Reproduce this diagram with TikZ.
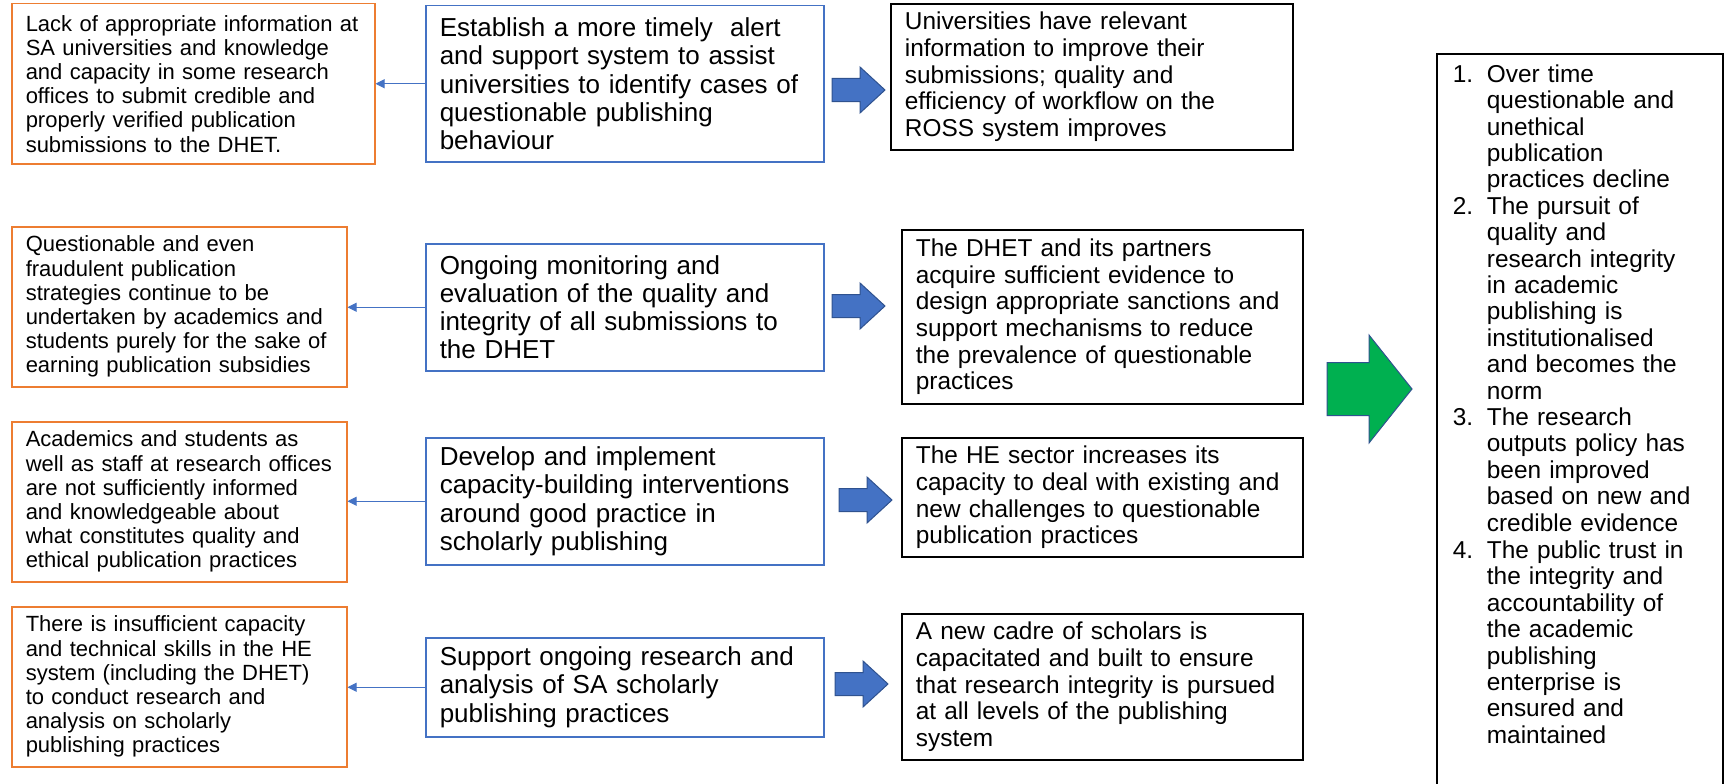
\documentclass[tikz,border=0pt]{standalone}
\usepackage{fontspec}
\setmainfont{Liberation Sans}
\usetikzlibrary{arrows.meta,calc}

\definecolor{causeorange}{HTML}{ED7D31}
\definecolor{actblue}{HTML}{4472C4}
\definecolor{arrowedge}{HTML}{2F528F}
\definecolor{goalgreen}{HTML}{00B050}

\newcommand{\outitem}[2]{\makebox[34pt][l]{\strut#1}\parbox[t]{220pt}{\raggedright\strut#2\strut}}

\tikzset{
	bigarrow/.pic={\draw[pic actions] (0,-11.5) -- (28,-11.5) -- (28,-23) -- (53,0) -- (28,23) -- (28,11.5) -- (0,11.5) -- cycle;},
	goalarrow/.pic={\draw[pic actions] (0,-26.5) -- (42,-26.5) -- (42,-54) -- (85,0) -- (42,54) -- (42,26.5) -- (0,26.5) -- cycle;},
}

\begin{document}
\begin{tikzpicture}[x=1pt,y=-1pt,
	cause/.style={draw=causeorange,line width=1.5pt,anchor=north west,inner xsep=14pt,inner ysep=0pt,align=left,minimum height=160,font=\fontsize{22}{24.2}\selectfont},
	action/.style={draw=actblue,line width=1.5pt,anchor=north west,inner xsep=14pt,inner ysep=0pt,align=left,text width=370,font=\fontsize{26}{28.3}\selectfont},
	result/.style={draw=black,line width=1.8pt,anchor=north west,inner xsep=14pt,inner ysep=0pt,align=left,font=\fontsize{24.4}{26.7}\selectfont},
	outcome/.style={draw=black,line width=1.8pt,anchor=north west,inner xsep=16pt,inner ysep=10pt,align=left,text width=254,text depth=760pt,font=\fontsize{24.4}{26.4}\selectfont},
	back/.style={-{Triangle[length=9pt,width=9pt]},draw=actblue,line width=1pt},
	push/.style={fill=actblue,draw=arrowedge,line width=1pt},
]
	\useasboundingbox (0,0) rectangle (1730,784);

	% causes
	\node[cause,text width=335] (c1) at (11,3) {Lack of appropriate information at\\ SA universities and knowledge\\ and capacity in some research\\ offices to submit credible and\\ properly verified publication\\ submissions to the DHET.};
	\node[cause,text width=307] (c2) at (11,226) {Questionable and even\\ fraudulent publication\\ strategies continue to be\\ undertaken by academics and\\ students purely for the sake of\\ earning publication subsidies};
	\node[cause,text width=307] (c3) at (11,421) {Academics and students as\\ well as staff at research offices\\ are not sufficiently informed\\ and knowledgeable about\\ what constitutes quality and\\ ethical publication practices};
	\node[cause,text width=307] (c4) at (11,606) {There is insufficient capacity\\ and technical skills in the HE\\ system (including the DHET)\\ to conduct research and\\ analysis on scholarly\\ publishing practices};

	% actions
	\node[action,minimum height=156] (a1) at (425,5) {Establish a more timely\ \ alert\\ and support system to assist\\ universities to identify cases of\\ questionable publishing\\ behaviour};
	\node[action,minimum height=127] (a2) at (425,243) {Ongoing monitoring and\\ evaluation of the quality and\\ integrity of all submissions to\\ the DHET};
	\node[action,minimum height=127] (a3) at (425,437) {Develop and implement\\ capacity-building interventions\\ around good practice in\\ scholarly publishing};
	\node[action,minimum height=99] (a4) at (425,637) {Support ongoing research and\\ analysis of SA scholarly\\ publishing practices};

	% results
	\node[result,text width=374,minimum height=146] (r1) at (890,3) {Universities have relevant\\ information to improve their\\ submissions; quality and\\ efficiency of workflow on the\\ ROSS system improves};
	\node[result,text width=373,minimum height=174] (r2) at (901,229) {The DHET and its partners\\ acquire sufficient evidence to\\ design appropriate sanctions and\\ support mechanisms to reduce\\ the prevalence of questionable\\ practices};
	\node[result,text width=373,minimum height=119] (r3) at (901,437) {The HE sector increases its\\ capacity to deal with existing and\\ new challenges to questionable\\ publication practices};
	\node[result,text width=373,minimum height=146] (r4) at (901,613) {A new cadre of scholars is\\ capacitated and built to ensure\\ that research integrity is pursued\\ at all levels of the publishing\\ system};

	% outcomes
	\node[outcome] (goal) at (1436,53) {\lineskip=0pt\relax
		\outitem{1.}{Over time\\ questionable and\\ unethical\\ publication\\ practices decline}\\
		\outitem{2.}{The pursuit of\\ quality and\\ research integrity\\ in academic\\ publishing is\\ institutionalised\\ and becomes the\\ norm}\\
		\outitem{3.}{The research\\ outputs policy has\\ been improved\\ based on new and\\ credible evidence}\\
		\outitem{4.}{The public trust in\\ the integrity and\\ accountability of\\ the academic\\ publishing\\ enterprise is\\ ensured and\\ maintained}};

	% arrows
	\foreach \i in {1,...,4}
		\draw[back] (a\i.west) -- (a\i.west -| c\i.east);
	\pic[push] at (832,90) {bigarrow};
	\pic[push] at (832,306) {bigarrow};
	\pic[push] at (839,500) {bigarrow};
	\pic[push] at (835,684) {bigarrow};
	\pic[fill=goalgreen,draw=arrowedge,line width=1pt] at (1327,389) {goalarrow};
\end{tikzpicture}
\end{document}
